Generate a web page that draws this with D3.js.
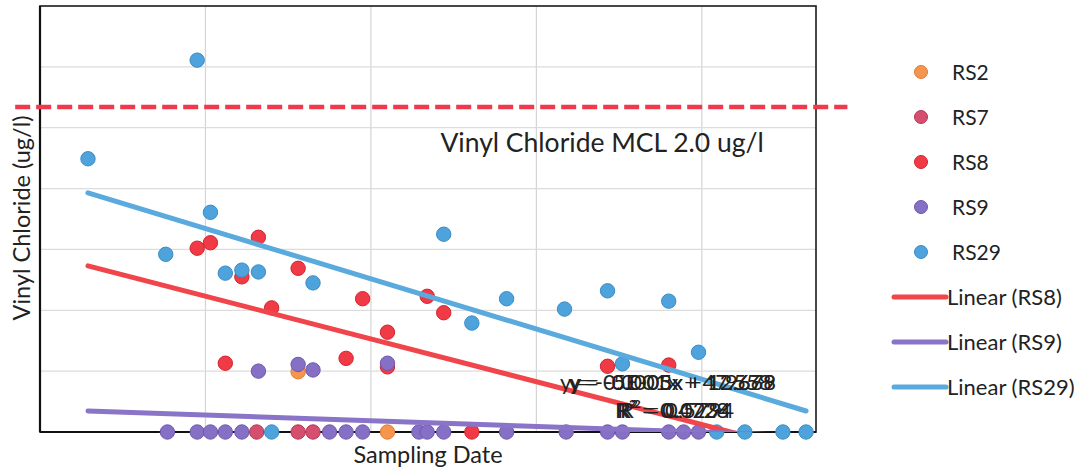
<!DOCTYPE html>
<html>
<head>
<meta charset="utf-8">
<script src="https://cdn.jsdelivr.net/npm/d3@7"></script>
<style>
  html, body { margin: 0; padding: 0; background: #ffffff; }
  svg { display: block; }
  text { font-family: Lato, "Open Sans", "DejaVu Sans", sans-serif; fill: #222; }
</style>
</head>
<body>
<svg id="chart" width="1081" height="467"></svg>
<script>
// ---- Data (x = decimal sampling year, y = concentration in grid units) ----
const seriesNames = ["RS2", "RS7", "RS8", "RS9", "RS29"];
const seriesColors = ["#f5964e", "#d4506e", "#f03a45", "#8670c6", "#4fa3dc"];
const seriesStrokes = ["#e07a34", "#b83556", "#d42430", "#6d58ad", "#3a8cc4"];

const rs2X = [2012.56, 2013.10];
const rs2Y = [0.99, 0];

const rs7X = [2012.31, 2012.56, 2012.65];
const rs7Y = [0, 0, 0];

const rs8X = [2011.95, 2012.03, 2012.12, 2012.22, 2012.32, 2012.40, 2012.56, 2012.85, 2012.95, 2013.10, 2013.10, 2013.34, 2013.44, 2013.61, 2014.43, 2014.80];
const rs8Y = [3.02, 3.11, 1.13, 2.55, 3.20, 2.04, 2.69, 1.21, 2.19, 1.64, 1.07, 2.23, 1.96, 0, 1.08, 1.10];

const rs9X = [2011.77, 2011.95, 2012.03, 2012.12, 2012.22, 2012.32, 2012.56, 2012.65, 2012.75, 2012.85, 2012.95, 2013.10, 2013.29, 2013.34, 2013.44, 2013.82, 2014.18, 2014.43, 2014.52, 2014.80, 2014.89, 2014.98];
const rs9Y = [0, 0, 0, 0, 0, 1.00, 1.11, 1.02, 0, 0, 0, 1.13, 0, 0, 0, 0, 0, 0, 0, 0, 0, 0];

const rs29X = [2011.29, 2011.76, 2011.95, 2012.03, 2012.12, 2012.22, 2012.32, 2012.40, 2012.65, 2013.44, 2013.61, 2013.82, 2014.17, 2014.43, 2014.52, 2014.80, 2014.98, 2015.09, 2015.26, 2015.49, 2015.63];
const rs29Y = [4.49, 2.92, 6.11, 3.61, 2.61, 2.66, 2.63, 0, 2.45, 3.25, 1.79, 2.19, 2.02, 2.32, 1.12, 2.15, 1.31, 0, 0, 0, 0];

// Linear trendlines (value at start and end of the sampled range)
const trendNames = ["Linear (RS8)", "Linear (RS9)", "Linear (RS29)"];
const trendColors = ["#f0454b", "#8a74c8", "#5aaadd"];
const trendRange = [2011.29, 2015.63];
const trendStartY = [2.73, 0.345, 3.93];
const trendEndY = [-0.32, -0.06, 0.345];

const equationLabels = ["y = -0.0003x + 12.679", "y = -5E-05x + 1.9668", "y = -0.001x + 47.558"];
const r2Labels = ["R² = 0.4728", "R² = 0.5794", "R² = 0.0234"];

const mclLevel = 5.34;
const mclLabel = "Vinyl Chloride MCL 2.0 ug/l";
const xDomain = [2011, 2015.69];
const yDomain = [0, 7];
const xGrid = [2012, 2013, 2014, 2015];
const yGrid = [1, 2, 3, 4, 5, 6];

// ---- Layout ----
const svg = d3.select("#chart");
const W = 1081, H = 467;
const plot = { left: 40, right: 816, top: 6, bottom: 432 };

svg.append("rect").attr("width", W).attr("height", H).attr("fill", "#fff");

const x = d3.scaleLinear().domain(xDomain).range([plot.left, plot.right]);
const y = d3.scaleLinear().domain(yDomain).range([plot.bottom, plot.top]);

// gridlines
const grid = svg.append("g");
grid.selectAll("line.v").data(xGrid).join("line")
  .attr("x1", d => x(d)).attr("x2", d => x(d))
  .attr("y1", plot.top).attr("y2", plot.bottom)
  .attr("stroke", "#d4d4d4").attr("stroke-width", 1.2);
grid.selectAll("line.h").data(yGrid).join("line")
  .attr("x1", plot.left).attr("x2", plot.right)
  .attr("y1", d => y(d)).attr("y2", d => y(d))
  .attr("stroke", "#dcdcdc").attr("stroke-width", 1.2);

// plot border
svg.append("rect")
  .attr("x", plot.left).attr("y", plot.top)
  .attr("width", plot.right - plot.left).attr("height", plot.bottom - plot.top)
  .attr("fill", "none").attr("stroke", "#1a1a1a").attr("stroke-width", 1.6);
svg.append("line").attr("x1", plot.left).attr("x2", plot.left)
  .attr("y1", plot.top).attr("y2", plot.bottom).attr("stroke", "#111").attr("stroke-width", 2.2);
svg.append("line").attr("x1", plot.left).attr("x2", plot.right)
  .attr("y1", plot.bottom).attr("y2", plot.bottom).attr("stroke", "#111").attr("stroke-width", 2.2);

// MCL dashed line (extends past plot edges)
svg.append("line")
  .attr("x1", x(2010.85)).attr("x2", x(2015.88))
  .attr("y1", y(mclLevel)).attr("y2", y(mclLevel))
  .attr("stroke", "#ee3a4e").attr("stroke-width", 4.5)
  .attr("stroke-dasharray", "15,6");

svg.append("text")
  .attr("x", x(2013.42)).attr("y", y(4.6))
  .attr("font-size", 26.5).text(mclLabel);

// points
const allSeries = [
  { xs: rs2X, ys: rs2Y },
  { xs: rs7X, ys: rs7Y },
  { xs: rs8X, ys: rs8Y },
  { xs: rs9X, ys: rs9Y },
  { xs: rs29X, ys: rs29Y }
];
allSeries.forEach((s, i) => {
  const pts = s.xs.map((v, j) => [v, s.ys[j]]);
  svg.append("g").selectAll("circle").data(pts).join("circle")
    .attr("cx", d => x(d[0])).attr("cy", d => y(d[1]))
    .attr("r", 7.2)
    .attr("fill", seriesColors[i])
    .attr("stroke", seriesStrokes[i]).attr("stroke-width", 1);
});

// trendlines (clipped to plot)
svg.append("clipPath").attr("id", "clip").append("rect")
  .attr("x", plot.left).attr("y", plot.top)
  .attr("width", plot.right - plot.left).attr("height", plot.bottom - plot.top);
const tg = svg.append("g").attr("clip-path", "url(#clip)");
trendNames.forEach((n, i) => {
  tg.append("line")
    .attr("x1", x(trendRange[0])).attr("y1", y(trendStartY[i]))
    .attr("x2", x(trendRange[1])).attr("y2", y(trendEndY[i]))
    .attr("stroke", trendColors[i]).attr("stroke-width", 5)
    .attr("stroke-linecap", "round");
});

// overlapping equation labels (as in the original chart)
const eqOffsets = [0, 5, 2];
equationLabels.forEach((t, i) => {
  svg.append("text").attr("x", 668 + eqOffsets[i]).attr("y", 390)
    .attr("text-anchor", "middle").attr("font-size", 22).attr("fill", "#2a2a2a").text(t);
});
r2Labels.forEach((t, i) => {
  svg.append("text").attr("x", 672 + eqOffsets[i]).attr("y", 418)
    .attr("text-anchor", "middle").attr("font-size", 22).attr("fill", "#2a2a2a").text(t);
});

// axis titles
svg.append("text").attr("x", 428).attr("y", 463)
  .attr("text-anchor", "middle").attr("font-size", 23.5).text("Sampling Date");
svg.append("text")
  .attr("transform", "translate(30,218) rotate(-90)")
  .attr("text-anchor", "middle").attr("font-size", 23.5).text("Vinyl Chloride (ug/l)");

// legend
const legend = svg.append("g");
const legY0 = 72, legStep = 45;
seriesNames.forEach((n, i) => {
  const ly = legY0 + i * legStep;
  legend.append("circle").attr("cx", 921).attr("cy", ly).attr("r", 6.5)
    .attr("fill", seriesColors[i]).attr("stroke", seriesStrokes[i]).attr("stroke-width", 1);
  legend.append("text").attr("x", 952).attr("y", ly + 7.5).attr("font-size", 21).text(n);
});
trendNames.forEach((n, i) => {
  const ly = legY0 + (seriesNames.length + i) * legStep;
  legend.append("line").attr("x1", 894).attr("x2", 946).attr("y1", ly).attr("y2", ly)
    .attr("stroke", trendColors[i]).attr("stroke-width", 5).attr("stroke-linecap", "round");
  legend.append("text").attr("x", 947).attr("y", ly + 7.5).attr("font-size", 22).text(n);
});
</script>
</body>
</html>
